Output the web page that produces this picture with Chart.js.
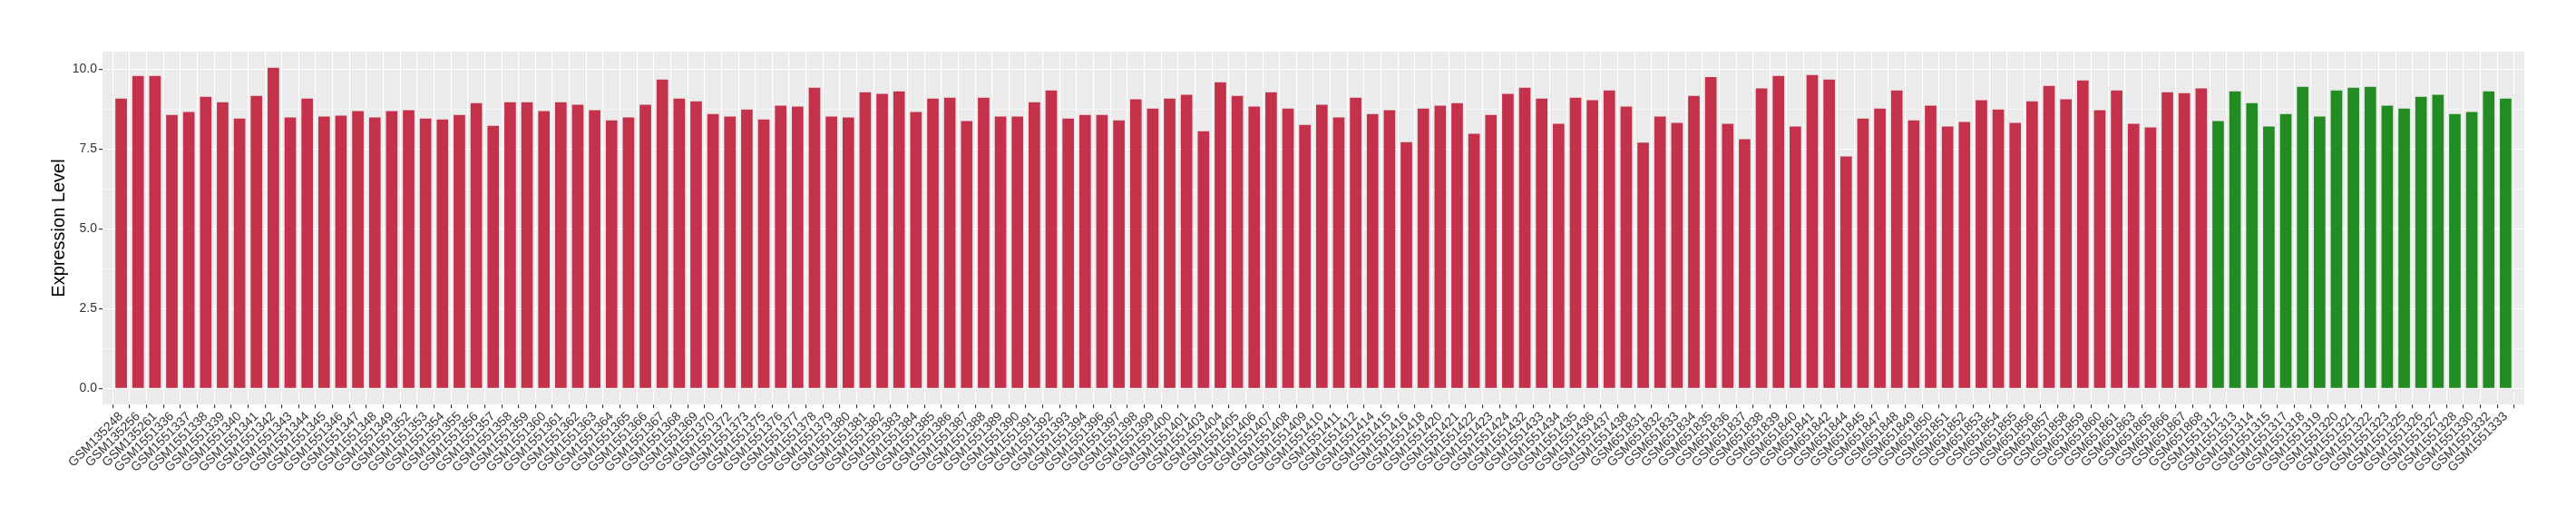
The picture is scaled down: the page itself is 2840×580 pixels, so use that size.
<!DOCTYPE html>
<html>
<head>
<meta charset="utf-8">
<script src="https://cdn.jsdelivr.net/npm/chart.js@4"></script>
<style>
  body { margin: 0; background: #fff; }
  canvas { display: block; }
</style>
</head>
<body>
<canvas id="exprChart" width="2840" height="580"></canvas>
<script>
// Sample groups //
const redSamples = [
  "GSM135248", "GSM135256", "GSM135261", "GSM1551336", "GSM1551337", "GSM1551338", "GSM1551339", "GSM1551340",
  "GSM1551341", "GSM1551342", "GSM1551343", "GSM1551344", "GSM1551345", "GSM1551346", "GSM1551347", "GSM1551348",
  "GSM1551349", "GSM1551352", "GSM1551353", "GSM1551354", "GSM1551355", "GSM1551356", "GSM1551357", "GSM1551358",
  "GSM1551359", "GSM1551360", "GSM1551361", "GSM1551362", "GSM1551363", "GSM1551364", "GSM1551365", "GSM1551366",
  "GSM1551367", "GSM1551368", "GSM1551369", "GSM1551370", "GSM1551372", "GSM1551373", "GSM1551375", "GSM1551376",
  "GSM1551377", "GSM1551378", "GSM1551379", "GSM1551380", "GSM1551381", "GSM1551382", "GSM1551383", "GSM1551384",
  "GSM1551385", "GSM1551386", "GSM1551387", "GSM1551388", "GSM1551389", "GSM1551390", "GSM1551391", "GSM1551392",
  "GSM1551393", "GSM1551394", "GSM1551396", "GSM1551397", "GSM1551398", "GSM1551399", "GSM1551400", "GSM1551401",
  "GSM1551403", "GSM1551404", "GSM1551405", "GSM1551406", "GSM1551407", "GSM1551408", "GSM1551409", "GSM1551410",
  "GSM1551411", "GSM1551412", "GSM1551414", "GSM1551415", "GSM1551416", "GSM1551418", "GSM1551420", "GSM1551421",
  "GSM1551422", "GSM1551423", "GSM1551424", "GSM1551432", "GSM1551433", "GSM1551434", "GSM1551435", "GSM1551436",
  "GSM1551437", "GSM1551438", "GSM651831", "GSM651832", "GSM651833", "GSM651834", "GSM651835", "GSM651836",
  "GSM651837", "GSM651838", "GSM651839", "GSM651840", "GSM651841", "GSM651842", "GSM651844", "GSM651845",
  "GSM651847", "GSM651848", "GSM651849", "GSM651850", "GSM651851", "GSM651852", "GSM651853", "GSM651854",
  "GSM651855", "GSM651856", "GSM651857", "GSM651858", "GSM651859", "GSM651860", "GSM651861", "GSM651863",
  "GSM651865", "GSM651866", "GSM651867", "GSM651868"
];
const redValues = [
  9.08, 9.79, 9.79, 8.57, 8.66, 9.14, 8.97, 8.46,
  9.17, 10.05, 8.49, 9.08, 8.52, 8.55, 8.69, 8.49,
  8.69, 8.72, 8.46, 8.43, 8.57, 8.94, 8.23, 8.97,
  8.97, 8.69, 8.97, 8.89, 8.72, 8.40, 8.49, 8.89,
  9.68, 9.08, 9.00, 8.60, 8.52, 8.74, 8.43, 8.86,
  8.83, 9.42, 8.52, 8.49, 9.28, 9.23, 9.31, 8.66,
  9.08, 9.11, 8.38, 9.11, 8.52, 8.52, 8.97, 9.34,
  8.46, 8.57, 8.57, 8.40, 9.06, 8.77, 9.08, 9.20,
  8.06, 9.59, 9.17, 8.83, 9.28, 8.77, 8.26, 8.89,
  8.49, 9.11, 8.60, 8.72, 7.72, 8.77, 8.86, 8.94,
  7.98, 8.57, 9.23, 9.42, 9.08, 8.29, 9.11, 9.03,
  9.34, 8.83, 7.70, 8.52, 8.32, 9.17, 9.76, 8.29,
  7.81, 9.40, 9.79, 8.21, 9.82, 9.68, 7.27, 8.46,
  8.77, 9.34, 8.40, 8.86, 8.21, 8.35, 9.03, 8.74,
  8.32, 9.00, 9.48, 9.06, 9.65, 8.72, 9.34, 8.29,
  8.18, 9.28, 9.25, 9.40
];
const greenSamples = [
  "GSM1551312", "GSM1551313", "GSM1551314", "GSM1551315", "GSM1551317", "GSM1551318", "GSM1551319", "GSM1551320",
  "GSM1551321", "GSM1551322", "GSM1551323", "GSM1551325", "GSM1551326", "GSM1551327", "GSM1551328", "GSM1551330",
  "GSM1551332", "GSM1551333"
];
const greenValues = [
  8.38, 9.31, 8.94, 8.21, 8.60, 9.45, 8.52, 9.34,
  9.42, 9.45, 8.86, 8.77, 9.14, 9.20, 8.60, 8.66,
  9.31, 9.08
];
const yTicks = [0, 2.5, 5, 7.5, 10];

const samples = redSamples.concat(greenSamples);
const values = redValues.concat(greenValues);
const barColors = redSamples.map(() => "#C3314A").concat(greenSamples.map(() => "#228B22"));

// grey ggplot-like panel
const panelBg = {
  id: "panelBg",
  beforeDraw(chart) {
    const a = chart.chartArea;
    chart.ctx.save();
    chart.ctx.fillStyle = "#EBEBEB";
    chart.ctx.fillRect(a.left, a.top, a.right - a.left, a.bottom - a.top);
    chart.ctx.restore();
  }
};

const isMajor = (v) => yTicks.includes(v);

const ctx = document.getElementById("exprChart").getContext("2d");
const exprChart = new Chart(ctx, {
  type: "bar",
  data: {
    datasets: [
      {
        data: values.map((v, i) => ({ x: i, y: v })),
        backgroundColor: barColors,
        borderWidth: 0,
        categoryPercentage: 1,
        barPercentage: 0.68,
      },
    ],
  },
  options: {
    responsive: false,
    animation: false,
    layout: { padding: { top: 57, right: 57, left: 0, bottom: 0 } },
    plugins: { legend: { display: false }, tooltip: { enabled: false } },
    scales: {
      x: {
        type: "linear",
        min: -0.6,
        max: samples.length - 1 + 0.6,
        afterBuildTicks: (scale) => {
          scale.ticks = samples.map((s, i) => ({ value: i }));
        },
        afterFit: (scale) => { scale.height = 134; },
        grid: { color: "#FFFFFF", lineWidth: 1.1, tickColor: "#333333", tickLength: 4 },
        border: { display: false },
        ticks: {
          autoSkip: false,
          maxRotation: 45,
          minRotation: 45,
          padding: 1,
          color: "#333333",
          font: { family: "Liberation Sans", size: 14 },
          callback: (value) => samples[value],
        },
      },
      y: {
        min: -0.5025,
        max: 10.5525,
        afterBuildTicks: (scale) => {
          const t = [];
          for (let v = 0; v <= 10; v += 1.25) t.push({ value: v });
          scale.ticks = t;
        },
        afterFit: (scale) => { scale.width = 113; },
        grid: {
          color: "#FFFFFF",
          lineWidth: (c) => (c.tick && isMajor(c.tick.value) ? 1.1 : 0.55),
          tickColor: (c) => (c.tick && isMajor(c.tick.value) ? "#333333" : "rgba(0,0,0,0)"),
          tickLength: 4,
        },
        border: { display: false },
        ticks: {
          autoSkip: false,
          padding: 2,
          color: "#333333",
          font: { family: "Liberation Sans", size: 14 },
          callback: (value) => (isMajor(value) ? value.toFixed(1) : ""),
        },
        title: {
          display: true,
          text: "Expression Level",
          color: "#000000",
          font: { family: "Liberation Sans", size: 20 },
          padding: { top: 53, bottom: 0 },
        },
      },
    },
  },
  plugins: [panelBg],
});
</script>
</body>
</html>
